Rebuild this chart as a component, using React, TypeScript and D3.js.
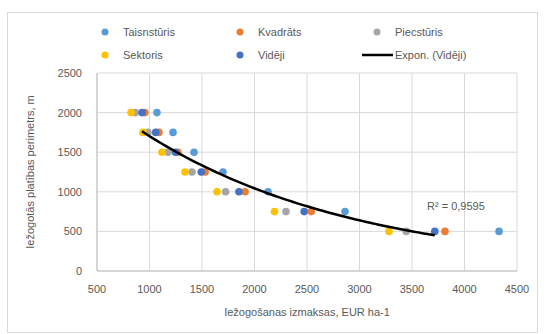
import React from "react";
import * as d3 from "d3";

const perimeters = [2000, 1750, 1500, 1250, 1000, 750, 500];
const taisnsturis = [1071, 1224, 1424, 1700, 2129, 2862, 4329];
const kvadrats = [956, 1090, 1271, 1530, 1910, 2540, 3814];
const piecsturis = [865, 985, 1175, 1405, 1725, 2300, 3445];
const sektoris = [824, 938, 1119, 1338, 1643, 2190, 3281];
const videji = [929, 1059, 1247, 1493, 1852, 2473, 3717];

const xTicks = [500, 1000, 1500, 2000, 2500, 3000, 3500, 4000, 4500];
const yTicks = [0, 500, 1000, 1500, 2000, 2500];

const seriesNames = ["Taisnstūris", "Kvadrāts", "Piecstūris", "Sektoris", "Vidēji"];
const seriesValues = [taisnsturis, kvadrats, piecsturis, sektoris, videji];
const seriesColors = ["#5B9BD5", "#ED7D31", "#A5A5A5", "#FFC000", "#4472C4"];
const trendName = "Expon. (Vidēji)";
const r2Label = "R² = 0,9595";
const xTitle = "Iežogošanas izmaksas, EUR ha-1";
const yTitle = "Iežogotās platības perimetrs, m";

const W = 548;
const H = 334;
const FONT = "'Liberation Sans', Arial, sans-serif";
const TXT = "#595959";

export default function App() {
  const x = d3.scaleLinear().domain([500, 4500]).range([97, 517]);
  const y = d3.scaleLinear().domain([0, 2500]).range([271, 73]);

  // exponential fit on Vidēji: y = a*exp(b*x)
  const xs = videji;
  const ls = perimeters.map((p) => Math.log(p));
  const mx = d3.mean(xs) as number;
  const ml = d3.mean(ls) as number;
  let sxy = 0, sxx = 0;
  xs.forEach((xv, i) => {
    sxy += (xv - mx) * (ls[i] - ml);
    sxx += (xv - mx) * (xv - mx);
  });
  const b = sxy / sxx;
  const a = Math.exp(ml - b * mx);
  const [x0, x1] = d3.extent(xs) as [number, number];
  const trendPts = d3.range(0, 61).map((i) => {
    const xv = x0 + ((x1 - x0) * i) / 60;
    return [xv, a * Math.exp(b * xv)] as [number, number];
  });
  const line = d3
    .line<[number, number]>()
    .x((d) => x(d[0]))
    .y((d) => y(d[1]))
    .curve(d3.curveMonotoneX);

  const legendItems = [
    { col: 0, row: 0, idx: 0 },
    { col: 1, row: 0, idx: 1 },
    { col: 2, row: 0, idx: 2 },
    { col: 0, row: 1, idx: 3 },
    { col: 1, row: 1, idx: 4 },
  ];
  const colX = [105, 240, 377];
  const rowY = [32, 55];

  return (
    <svg
      width={W}
      height={H}
      style={{ position: "absolute", left: 0, top: 0, background: "#fff" }}
      fontFamily={FONT}
    >
      <rect x={0} y={0} width={W} height={H} fill="#fff" />
      <rect x={7.5} y={12.5} width={530} height={320} fill="#fff" stroke="#d9d9d9" strokeWidth={1} />

      {/* gridlines */}
      {yTicks.map((t) => (
        <line key={"gy" + t} x1={x(500)} x2={x(4500)} y1={y(t)} y2={y(t)} stroke="#d9d9d9" strokeWidth={1} />
      ))}
      {xTicks.map((t) => (
        <line key={"gx" + t} x1={x(t)} x2={x(t)} y1={y(0)} y2={y(2500)} stroke="#d9d9d9" strokeWidth={1} />
      ))}
      <line x1={x(500)} x2={x(4500)} y1={y(0)} y2={y(0)} stroke="#bfbfbf" strokeWidth={1} />
      <line x1={x(500)} x2={x(500)} y1={y(0)} y2={y(2500)} stroke="#bfbfbf" strokeWidth={1} />

      {/* tick labels */}
      {yTicks.map((t) => (
        <text key={"ty" + t} x={82} y={y(t) + 4} textAnchor="end" fontSize={11} fill={TXT}>
          {t}
        </text>
      ))}
      {xTicks.map((t) => (
        <text key={"tx" + t} x={x(t)} y={293} textAnchor="middle" fontSize={11} fill={TXT}>
          {t}
        </text>
      ))}

      {/* axis titles */}
      <text x={307} y={316} textAnchor="middle" fontSize={11} fill={TXT}>
        {xTitle}
      </text>
      <text
        transform={`translate(34, ${(y(0) + y(2500)) / 2}) rotate(-90)`}
        textAnchor="middle"
        fontSize={11}
        fill={TXT}
      >
        {yTitle}
      </text>

      {/* points */}
      {seriesValues.map((vals, si) => (
        <g key={"s" + si}>
          {vals.map((v, i) => (
            <circle key={i} cx={x(v)} cy={y(perimeters[i])} r={3.8} fill={seriesColors[si]} />
          ))}
        </g>
      ))}

      {/* trendline */}
      <path d={line(trendPts) || ""} fill="none" stroke="#000" strokeWidth={2.5} />
      <text x={427} y={210} fontSize={11} fill={TXT}>
        {r2Label}
      </text>

      {/* legend */}
      {legendItems.map((it) => (
        <g key={"l" + it.idx}>
          <circle cx={colX[it.col]} cy={rowY[it.row]} r={3.5} fill={seriesColors[it.idx]} />
          <text x={colX[it.col] + 18} y={rowY[it.row] + 4} fontSize={11} fill={TXT}>
            {seriesNames[it.idx]}
          </text>
        </g>
      ))}
      <line x1={362} x2={393} y1={rowY[1]} y2={rowY[1]} stroke="#000" strokeWidth={2.5} />
      <text x={395} y={rowY[1] + 4} fontSize={11} fill={TXT}>
        {trendName}
      </text>
    </svg>
  );
}
